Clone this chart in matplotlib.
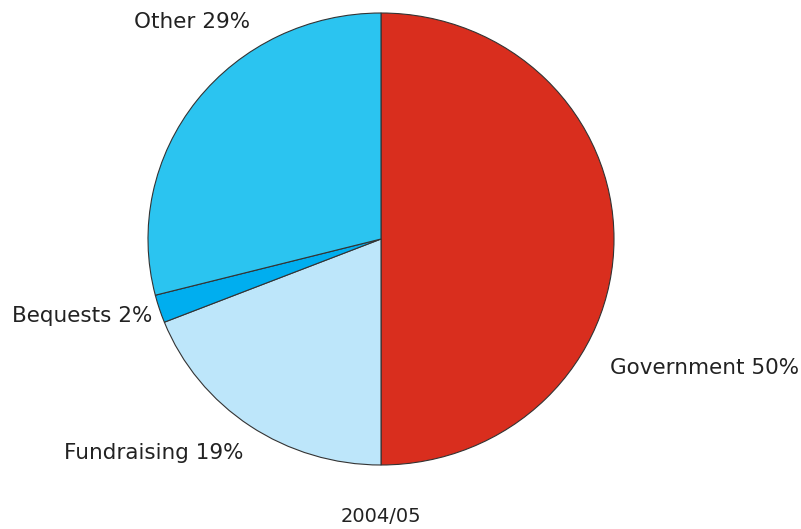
import matplotlib
matplotlib.use("Agg")
import matplotlib.pyplot as plt

categories = ["Government", "Fundraising", "Bequests", "Other"]
values = [50, 19, 2, 29]
colors = ["#D92E1E", "#BDE6FA", "#00AEEF", "#2BC4F0"]
title = "2004/05"

W, H = 801, 529
fig = plt.figure(figsize=(W / 100, H / 100), dpi=100)
ax = fig.add_axes([148 / W, (H - 465) / H, 466 / W, 452 / H])
ax.pie(values, colors=colors, startangle=90, counterclock=False,
       wedgeprops=dict(edgecolor="#333333", linewidth=0.8))
ax.set_aspect("auto")
ax.set_xlim(-1, 1)
ax.set_ylim(-1, 1)
ax.axis("off")

label_pos = {
    "Government": (610, 368, "left"),
    "Fundraising": (243, 453, "right"),
    "Bequests": (152, 316, "right"),
    "Other": (250, 22, "right"),
}
for cat, v in zip(categories, values):
    x, y, ha = label_pos[cat]
    fig.text(x / W, 1 - y / H, f"{cat} {v}%", ha=ha, va="center",
             fontsize=15.5, color="#222222", family="DejaVu Sans")

fig.text(381 / W, 1 - 517 / H, title, ha="center", va="center",
         fontsize=14, color="#222222")

fig.savefig("out.png", dpi=100)
